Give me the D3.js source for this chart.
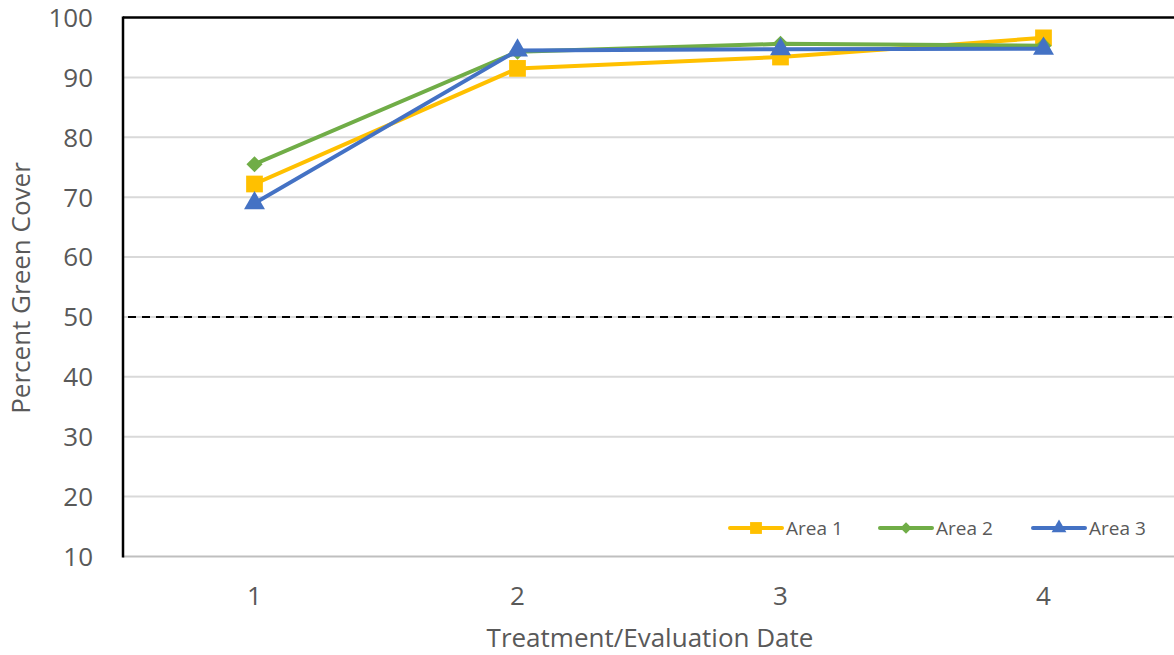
<!DOCTYPE html>
<html><head><meta charset="utf-8">
<script src="https://cdn.jsdelivr.net/npm/d3@7"></script>
<style>body{margin:0;background:#fff;}svg{display:block;}</style>
</head><body><svg id="c" width="1174" height="655"></svg>
<script>
const categories = ["1","2","3","4"];
const area1 = [72.2, 91.5, 93.4, 96.6];
const area2 = [75.5, 94.3, 95.6, 95.3];
const area3 = [69.0, 94.5, 94.7, 94.8];
const seriesNames = ["Area 1","Area 2","Area 3"];
const seriesColors = ["#FFC000","#70AD47","#4472C4"];
const yTicks = [10,20,30,40,50,60,70,80,90,100];
const threshold = 50;

(function(){
const svg = d3.select("#c");
const pL = 123, pR = 1175, pT = 17.5, pB = 556.5;
const x = d3.scaleBand().domain(categories).range([pL, pR]);
const y = d3.scaleLinear().domain([10,100]).range([pB, pT]);
const font = "'Open Sans', 'Noto Sans', sans-serif";
const grey = "#595959";

svg.append("g").selectAll("line").data(yTicks.filter(t=>t>10 && t<100)).join("line")
  .attr("x1", pL).attr("x2", pR).attr("y1", d=>y(d)).attr("y2", d=>y(d))
  .attr("stroke", "#d9d9d9").attr("stroke-width", 2);
svg.append("line").attr("x1", pL).attr("x2", pR).attr("y1", y(10)).attr("y2", y(10))
  .attr("stroke", "#bfbfbf").attr("stroke-width", 2);
svg.append("line").attr("x1", pL).attr("x2", pR).attr("y1", y(100)).attr("y2", y(100))
  .attr("stroke", "#000").attr("stroke-width", 2.5);
svg.append("line").attr("x1", pL+5).attr("x2", pR).attr("y1", y(threshold)).attr("y2", y(threshold))
  .attr("stroke", "#000").attr("stroke-width", 2).attr("stroke-dasharray", "8,6");
svg.append("line").attr("x1", pL).attr("x2", pL).attr("y1", y(100)-1).attr("y2", y(10)+1)
  .attr("stroke", "#000").attr("stroke-width", 2.5);

svg.append("g").selectAll("text").data(yTicks).join("text")
  .attr("x", 93).attr("y", d=>y(d)).attr("dy","0.36em").attr("text-anchor","end")
  .attr("font-family", font).attr("font-size", 26).attr("fill", grey).text(d=>d);
svg.append("g").selectAll("text").data(categories).join("text")
  .attr("x", d=>x(d)+x.bandwidth()/2).attr("y", 596).attr("dy","0.36em").attr("text-anchor","middle")
  .attr("font-family", font).attr("font-size", 26).attr("fill", grey).text(d=>d);
svg.append("text").attr("x", 650).attr("y", 638).attr("dy","0.36em").attr("text-anchor","middle")
  .attr("font-family", font).attr("font-size", 26).attr("fill", grey).text("Treatment/Evaluation Date");
svg.append("text").attr("transform","translate(21,288) rotate(-90)").attr("dy","0.36em").attr("text-anchor","middle")
  .attr("font-family", font).attr("font-size", 26).attr("fill", grey).text("Percent Green Cover");

const data = [area1, area2, area3];
const symbols = [d3.symbolSquare, d3.symbolSquare, d3.symbolTriangle];
const rot = [0, 45, 0];
const sizes = [280, 130, 190];
const line = d3.line().x((d,i)=>x(categories[i])+x.bandwidth()/2).y(d=>y(d));
data.forEach((vals, s) => {
  const g = svg.append("g");
  g.append("path").datum(vals).attr("d", line).attr("fill","none")
    .attr("stroke", seriesColors[s]).attr("stroke-width", 4).attr("stroke-linejoin","round");
  g.selectAll("path.m").data(vals).join("path").attr("class","m")
    .attr("transform",(d,i)=>`translate(${x(categories[i])+x.bandwidth()/2},${y(d)}) rotate(${rot[s]})`)
    .attr("d", d3.symbol().type(symbols[s]).size(sizes[s])).attr("fill", seriesColors[s]);
});

const legX = [730, 880, 1033];
const legY = 528;
seriesNames.forEach((n, s) => {
  const g = svg.append("g");
  g.append("line").attr("x1", legX[s]).attr("x2", legX[s]+52).attr("y1", legY).attr("y2", legY)
    .attr("stroke", seriesColors[s]).attr("stroke-width", 4).attr("stroke-linecap","round");
  g.append("path").attr("transform",`translate(${legX[s]+26},${legY}) rotate(${rot[s]})`)
    .attr("d", d3.symbol().type(symbols[s]).size(sizes[s]*0.5)).attr("fill", seriesColors[s]);
  g.append("text").attr("x", legX[s]+56).attr("y", legY).attr("dy","0.36em")
    .attr("font-family", font).attr("font-size", 19).attr("fill", grey).text(n);
});
})();
</script></body></html>
